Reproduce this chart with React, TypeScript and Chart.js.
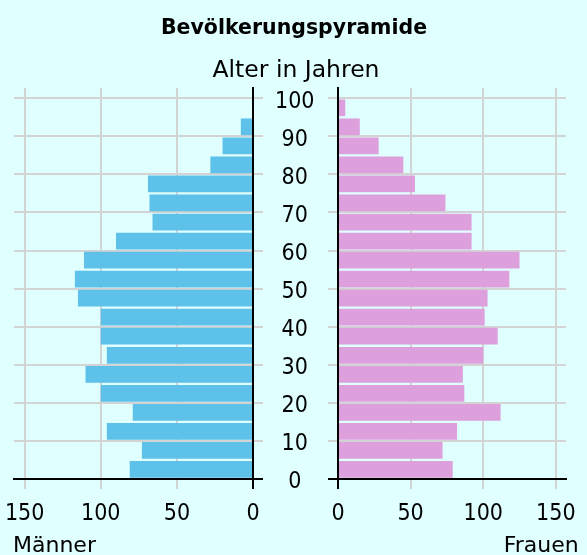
import React, { useEffect, useRef } from 'react';
import { Chart, registerables } from 'chart.js';

Chart.register(...registerables);

// ---- data ----
const ageGroupStarts = [0, 5, 10, 15, 20, 25, 30, 35, 40, 45, 50, 55, 60, 65, 70, 75, 80, 85, 90, 95];
const menValues = [81, 73, 96, 79, 100, 110, 96, 100, 100, 115, 117, 111, 90, 66, 68, 69, 28, 20, 8, 0];
const womenValues = [79, 72, 82, 112, 87, 86, 100, 110, 101, 103, 118, 125, 92, 92, 74, 53, 45, 28, 15, 5];
const ageTicks = [0, 10, 20, 30, 40, 50, 60, 70, 80, 90, 100];
const valueTicks = [0, 50, 100, 150];

const TITLE = 'Bevölkerungspyramide';
const AGE_TITLE = 'Alter in Jahren';
const MEN_LABEL = 'Männer';
const WOMEN_LABEL = 'Frauen';

const FONT = "'DejaVu Sans', sans-serif";
const TICK_FONT = "'DejaVu Sans Condensed', 'DejaVu Sans', sans-serif";
const BG = '#e0ffff';
const GRID = '#d3d3d3';
const MEN_COLOR = '#5ec1e9';
const WOMEN_COLOR = '#dda0dd';

function makeConfig(isLeft: boolean, values: number[], color: string): any {
  const gridColor = (ctx: any) => (ctx.tick && ctx.tick.value === 0 ? '#000000' : GRID);
  return {
    type: 'bar',
    data: {
      datasets: [
        {
          data: ageGroupStarts.map((a, i) => ({ x: values[i], y: a + 2.5 })),
          backgroundColor: color,
          borderWidth: 0,
          categoryPercentage: 1,
          barPercentage: 0.88,
        },
      ],
    },
    options: {
      indexAxis: 'y',
      responsive: false,
      animation: false,
      events: [],
      layout: {
        padding: isLeft
          ? { top: 88, left: 14, right: 0, bottom: 0 }
          : { top: 88, left: 0, right: 10, bottom: 0 },
      },
      plugins: {
        legend: { display: false },
        tooltip: { enabled: false },
        title: { display: false },
      },
      scales: {
        x: {
          type: 'linear',
          position: 'bottom',
          reverse: isLeft,
          min: 0,
          max: 157,
          offset: false,
          afterBuildTicks: (s: any) => {
            s.ticks = valueTicks.map((v) => ({ value: v }));
          },
          ticks: {
            font: { family: TICK_FONT, size: 23 },
            color: '#000',
            padding: 11,
            maxRotation: 0,
            autoSkip: false,
          },
          grid: { color: gridColor, lineWidth: 2, tickLength: 10, offset: false },
          border: { color: '#000', width: 2, z: 1 },
          afterFit: (s: any) => {
            s.height = 76;
          },
        },
        y: {
          type: 'linear',
          position: isLeft ? 'right' : 'left',
          min: 0,
          max: 102.7,
          offset: false,
          afterBuildTicks: (s: any) => {
            s.ticks = ageTicks.map((v) => ({ value: v }));
          },
          ticks: {
            display: isLeft,
            // empty first line nudges the label a few pixels below its grid line
            callback: (v: any) => ['', String(v)],
            font: { family: TICK_FONT, size: 23, lineHeight: '7px' },
            color: '#000',
            crossAlign: 'center',
            padding: 12,
            autoSkip: false,
          },
          grid: { color: gridColor, lineWidth: 2, tickLength: 10, offset: false },
          border: { color: '#000', width: 2, z: 1 },
          afterFit: (s: any) => {
            s.width = isLeft ? 77 : 42;
          },
        },
      },
    },
  };
}

function PyramidSide(props: { isLeft: boolean; values: number[]; color: string; left: number; width: number }) {
  const ref = useRef<HTMLCanvasElement | null>(null);
  useEffect(() => {
    if (!ref.current) return;
    const chart = new Chart(ref.current, makeConfig(props.isLeft, props.values, props.color));
    return () => chart.destroy();
  }, []);
  return (
    <canvas
      ref={ref}
      width={props.width}
      height={555}
      style={{ position: 'absolute', left: props.left, top: 0, width: props.width, height: 555 }}
    />
  );
}

export default function App() {
  const textBase: React.CSSProperties = {
    position: 'absolute',
    fontFamily: FONT,
    color: '#000',
    whiteSpace: 'nowrap',
  };
  return (
    <div
      style={{
        position: 'fixed',
        left: 0,
        top: 0,
        width: 587,
        height: 555,
        background: BG,
        overflow: 'hidden',
      }}
    >
      <PyramidSide isLeft={true} values={menValues} color={MEN_COLOR} left={0} width={330} />
      <PyramidSide isLeft={false} values={womenValues} color={WOMEN_COLOR} left={296} width={291} />
      <div
        style={{
          ...textBase,
          left: 0,
          width: 588,
          top: 17,
          textAlign: 'center',
          fontSize: 20.5,
          lineHeight: '20.5px',
          fontWeight: 'bold',
        }}
      >
        {TITLE}
      </div>
      <div
        style={{
          ...textBase,
          left: 296,
          top: 58,
          transform: 'translateX(-50%)',
          fontSize: 23.5,
          lineHeight: '23.5px',
        }}
      >
        {AGE_TITLE}
      </div>
      <div style={{ ...textBase, left: 13, top: 534.4, fontSize: 22, lineHeight: '22px' }}>{MEN_LABEL}</div>
      <div style={{ ...textBase, right: 8.3, top: 534.4, fontSize: 22, lineHeight: '22px' }}>{WOMEN_LABEL}</div>
    </div>
  );
}
